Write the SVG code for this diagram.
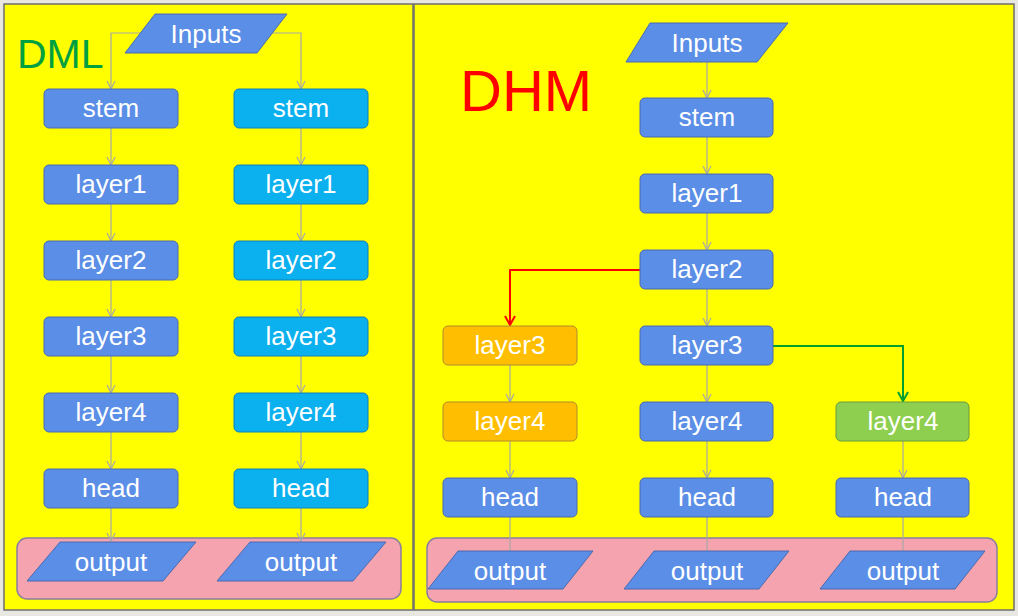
<svg xmlns="http://www.w3.org/2000/svg" width="1018" height="616" viewBox="0 0 1018 616">
<defs>
<style>
.panel{fill:#FFFF00;stroke:#6E6E6E;stroke-width:1.5}
.cont{fill:#F5A3AE;stroke:#8A7FA0;stroke-width:1.5}
.blue{fill:#5B8EE6;stroke:#4A6BB0;stroke-width:1}
.cyan{fill:#0BB0EE;stroke:#1080B8;stroke-width:1}
.orange{fill:#FFBF00;stroke:#B08A30;stroke-width:1}
.green{fill:#8FCF4F;stroke:#6A9A40;stroke-width:1}
.t{font-family:"Liberation Sans",Arial,sans-serif;font-size:26px;fill:#FFFFFF;text-anchor:middle}
.c{fill:none;stroke:#A8A8A8;stroke-width:1.2}
.red{fill:none;stroke:#FF0000;stroke-width:2}
.grn{fill:none;stroke:#00A030;stroke-width:2}
</style>
<marker id="ag" markerWidth="10" markerHeight="10" refX="9" refY="5" orient="auto" markerUnits="userSpaceOnUse" viewBox="0 0 10 10">
<path d="M1,1 L9,5 L1,9" fill="none" stroke="#A8A8A8" stroke-width="1.2"/>
</marker>
<marker id="ar" markerWidth="12" markerHeight="12" refX="11" refY="6" orient="auto" markerUnits="userSpaceOnUse" viewBox="0 0 12 12">
<path d="M2,1 L11,6 L2,11" fill="none" stroke="#FF0000" stroke-width="2"/>
</marker>
<marker id="agr" markerWidth="12" markerHeight="12" refX="11" refY="6" orient="auto" markerUnits="userSpaceOnUse" viewBox="0 0 12 12">
<path d="M2,1 L11,6 L2,11" fill="none" stroke="#00A030" stroke-width="2"/>
</marker>
</defs>
<rect x="0" y="0" width="1018" height="616" fill="#E9E7E2"/>
<g id="panel-dml">
<rect class="panel" x="4" y="4" width="409" height="606"/>
<text x="17" y="68" font-family="'Liberation Sans',Arial,sans-serif" font-size="41" fill="#00A040">DML</text>
<rect class="cont" x="17" y="538" width="384" height="61" rx="10"/>
</g>
<g id="panel-dhm">
<rect class="panel" x="414" y="4" width="600" height="606"/>
<text x="460" y="111" font-family="'Liberation Sans',Arial,sans-serif" font-size="58" fill="#FF0000">DHM</text>
<rect class="cont" x="427" y="538" width="570" height="64" rx="10"/>
</g>
<g id="connectors">
<path class="c" d="M140,33 H111 V89" marker-end="url(#ag)"/>
<path class="c" d="M272,33 H301 V89" marker-end="url(#ag)"/>
<path class="c" d="M111,128 V165" marker-end="url(#ag)"/>
<path class="c" d="M111,204 V241" marker-end="url(#ag)"/>
<path class="c" d="M111,280 V317" marker-end="url(#ag)"/>
<path class="c" d="M111,356 V393" marker-end="url(#ag)"/>
<path class="c" d="M111,432 V469" marker-end="url(#ag)"/>
<path class="c" d="M111,508 V541" marker-end="url(#ag)"/>
<path class="c" d="M301,128 V165" marker-end="url(#ag)"/>
<path class="c" d="M301,204 V241" marker-end="url(#ag)"/>
<path class="c" d="M301,280 V317" marker-end="url(#ag)"/>
<path class="c" d="M301,356 V393" marker-end="url(#ag)"/>
<path class="c" d="M301,432 V469" marker-end="url(#ag)"/>
<path class="c" d="M301,508 V541" marker-end="url(#ag)"/>
<path class="c" d="M707,62 V98" marker-end="url(#ag)"/>
<path class="c" d="M707,137 V174" marker-end="url(#ag)"/>
<path class="c" d="M707,213 V250" marker-end="url(#ag)"/>
<path class="c" d="M707,289 V326" marker-end="url(#ag)"/>
<path class="c" d="M707,365 V402" marker-end="url(#ag)"/>
<path class="c" d="M707,441 V478" marker-end="url(#ag)"/>
<path class="c" d="M707,517 V551"/>
<path class="c" d="M510,365 V402" marker-end="url(#ag)"/>
<path class="c" d="M510,441 V478" marker-end="url(#ag)"/>
<path class="c" d="M510,517 V551"/>
<path class="c" d="M903,441 V478" marker-end="url(#ag)"/>
<path class="c" d="M903,517 V551"/>
<path class="red" d="M640,270 H510 V325" marker-end="url(#ar)"/>
<path class="grn" d="M773,346 H903 V401" marker-end="url(#agr)"/>
</g>
<g id="dml-inputs"><polygon class="blue" points="125,53 155,14 287,14 257,53"/><text class="t" x="206" y="43">Inputs</text></g>
<g id="dml-a-stem"><rect class="blue" x="44" y="89" width="134" height="39" rx="5"/><text class="t" x="111" y="117">stem</text></g>
<g id="dml-a-layer1"><rect class="blue" x="44" y="165" width="134" height="39" rx="5"/><text class="t" x="111" y="193">layer1</text></g>
<g id="dml-a-layer2"><rect class="blue" x="44" y="241" width="134" height="39" rx="5"/><text class="t" x="111" y="269">layer2</text></g>
<g id="dml-a-layer3"><rect class="blue" x="44" y="317" width="134" height="39" rx="5"/><text class="t" x="111" y="345">layer3</text></g>
<g id="dml-a-layer4"><rect class="blue" x="44" y="393" width="134" height="39" rx="5"/><text class="t" x="111" y="421">layer4</text></g>
<g id="dml-a-head"><rect class="blue" x="44" y="469" width="134" height="39" rx="5"/><text class="t" x="111" y="497">head</text></g>
<g id="dml-a-output"><polygon class="blue" points="27,581 60,542 196,542 163,581"/><text class="t" x="111" y="571">output</text></g>
<g id="dml-b-stem"><rect class="cyan" x="234" y="89" width="134" height="39" rx="5"/><text class="t" x="301" y="117">stem</text></g>
<g id="dml-b-layer1"><rect class="cyan" x="234" y="165" width="134" height="39" rx="5"/><text class="t" x="301" y="193">layer1</text></g>
<g id="dml-b-layer2"><rect class="cyan" x="234" y="241" width="134" height="39" rx="5"/><text class="t" x="301" y="269">layer2</text></g>
<g id="dml-b-layer3"><rect class="cyan" x="234" y="317" width="134" height="39" rx="5"/><text class="t" x="301" y="345">layer3</text></g>
<g id="dml-b-layer4"><rect class="cyan" x="234" y="393" width="134" height="39" rx="5"/><text class="t" x="301" y="421">layer4</text></g>
<g id="dml-b-head"><rect class="cyan" x="234" y="469" width="134" height="39" rx="5"/><text class="t" x="301" y="497">head</text></g>
<g id="dml-b-output"><polygon class="blue" points="217,581 250,542 386,542 353,581"/><text class="t" x="301" y="571">output</text></g>
<g id="dhm-inputs"><polygon class="blue" points="626,62 650,23 788,23 757,62"/><text class="t" x="707" y="52">Inputs</text></g>
<g id="dhm-stem"><rect class="blue" x="640" y="98" width="133" height="39" rx="5"/><text class="t" x="707" y="126">stem</text></g>
<g id="dhm-layer1"><rect class="blue" x="640" y="174" width="133" height="39" rx="5"/><text class="t" x="707" y="202">layer1</text></g>
<g id="dhm-layer2"><rect class="blue" x="640" y="250" width="133" height="39" rx="5"/><text class="t" x="707" y="278">layer2</text></g>
<g id="dhm-b-layer3"><rect class="blue" x="640" y="326" width="133" height="39" rx="5"/><text class="t" x="707" y="354">layer3</text></g>
<g id="dhm-b-layer4"><rect class="blue" x="640" y="402" width="133" height="39" rx="5"/><text class="t" x="707" y="430">layer4</text></g>
<g id="dhm-b-head"><rect class="blue" x="640" y="478" width="133" height="39" rx="5"/><text class="t" x="707" y="506">head</text></g>
<g id="dhm-b-output"><polygon class="blue" points="624,589 654,551 789,551 759,589"/><text class="t" x="707" y="580">output</text></g>
<g id="dhm-a-layer3"><rect class="orange" x="443" y="326" width="134" height="39" rx="5"/><text class="t" x="510" y="354">layer3</text></g>
<g id="dhm-a-layer4"><rect class="orange" x="443" y="402" width="134" height="39" rx="5"/><text class="t" x="510" y="430">layer4</text></g>
<g id="dhm-a-head"><rect class="blue" x="443" y="478" width="134" height="39" rx="5"/><text class="t" x="510" y="506">head</text></g>
<g id="dhm-a-output"><polygon class="blue" points="428,589 458,551 593,551 563,589"/><text class="t" x="510" y="580">output</text></g>
<g id="dhm-c-layer4"><rect class="green" x="836" y="402" width="133" height="39" rx="5"/><text class="t" x="903" y="430">layer4</text></g>
<g id="dhm-c-head"><rect class="blue" x="836" y="478" width="133" height="39" rx="5"/><text class="t" x="903" y="506">head</text></g>
<g id="dhm-c-output"><polygon class="blue" points="820,589 850,551 985,551 955,589"/><text class="t" x="903" y="580">output</text></g>
</svg>
